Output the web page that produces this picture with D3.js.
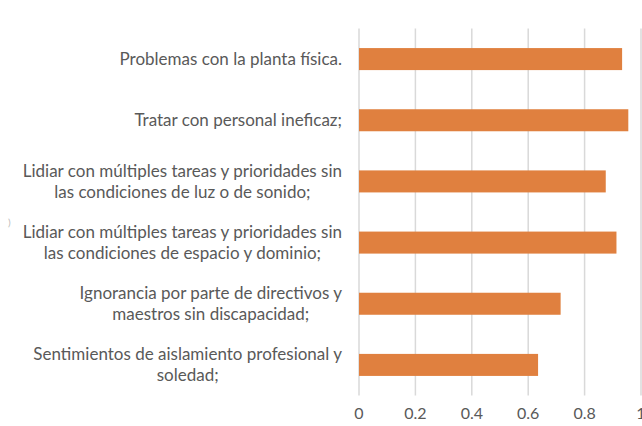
<!DOCTYPE html>
<html>
<head>
<meta charset="utf-8">
<script src="https://cdn.jsdelivr.net/npm/d3@7"></script>
<style>
  body { margin: 0; background: #fff; }
  text { font-family: Lato, "Open Sans", sans-serif; fill: #595959; }
</style>
</head>
<body>
<svg id="chart" width="642" height="426"></svg>
<script>
// categories, top to bottom (each entry = lines of the label)
const categories = [
  ["Problemas con la planta física."],
  ["Tratar con personal ineficaz;"],
  ["Lidiar con múltiples tareas y prioridades sin", "las condiciones de luz o de sonido;"],
  ["Lidiar con múltiples tareas y prioridades sin", "las condiciones de espacio y dominio;"],
  ["Ignorancia por parte de directivos y", "maestros sin discapacidad;"],
  ["Sentimientos de aislamiento profesional y", "soledad;"]
];
const values = [0.933, 0.955, 0.875, 0.913, 0.715, 0.635];
const tickValues = [0, 0.2, 0.4, 0.6, 0.8, 1];

const svg = d3.select("#chart");
const margin = { left: 359, top: 28.5, bottom: 30.5 };
const width = 642, height = 426;

const x = d3.scaleLinear().domain([0, 1]).range([margin.left, width - 1]);
const y = d3.scaleBand()
    .domain(d3.range(categories.length))
    .range([margin.top, height - margin.bottom])
    .paddingInner(0.64).paddingOuter(0.32);

// vertical gridlines
svg.append("g").selectAll("line")
    .data(tickValues)
    .join("line")
    .attr("x1", d => x(d)).attr("x2", d => x(d))
    .attr("y1", margin.top).attr("y2", height - margin.bottom)
    .attr("stroke", "#d9d9d9").attr("stroke-width", 1.5);

// bars
svg.append("g").selectAll("rect")
    .data(values)
    .join("rect")
    .attr("x", x(0))
    .attr("y", (d, i) => y(i))
    .attr("width", d => x(d) - x(0))
    .attr("height", y.bandwidth())
    .attr("fill", "#E0803F");

// x tick labels (the "1" is cut by the right edge, as in the original)
svg.append("g").selectAll("text")
    .data(tickValues)
    .join("text")
    .attr("x", d => x(d))
    .attr("y", 419)
    .attr("text-anchor", "middle")
    .style("font-size", "16px")
    .text(d => d3.format("~g")(d));

// category labels, lines centred, widest line ending at x = 342
const lineH = 21;
const labels = svg.append("g").selectAll("text")
    .data(categories)
    .join("text")
    .attr("text-anchor", "middle")
    .style("font-size", "17px");
labels.each(function(lines, i) {
    const cy = y(i) + y.bandwidth() / 2;
    const t = d3.select(this);
    lines.forEach((ln, k) => {
        t.append("tspan")
            .attr("y", cy + (k - (lines.length - 1) / 2) * lineH)
            .attr("dy", "0.35em")
            .text(ln);
    });
    let maxW = 0;
    t.selectAll("tspan").each(function() { maxW = Math.max(maxW, this.getComputedTextLength()); });
    t.selectAll("tspan").attr("x", 342 - maxW / 2);
});

// stray mark at the left edge
svg.append("text").attr("x", 8).attr("y", 226)
    .style("font-size", "10px").style("fill", "#bbb").text(")");
</script>
</body>
</html>
